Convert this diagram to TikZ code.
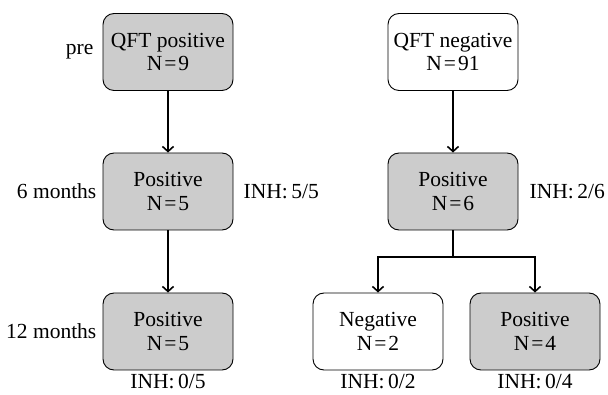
\documentclass[tikz,border=0pt]{standalone}
\usepackage{fontspec}
\setmainfont{Liberation Serif}
\usepackage{tikz}
\usetikzlibrary{positioning,arrows.meta}

\newcommand{\eqsign}{\kern2pt=\kern2pt}

\begin{document}
\begin{tikzpicture}[x=1pt, y=-1pt,
  box/.style={draw, line width=0.9pt, rounded corners=11pt, minimum width=130pt,
    minimum height=77pt, align=center, font=\fontsize{21.5}{23.5}\selectfont},
  posbox/.style={box, fill=gray!40},
  negbox/.style={box, fill=white},
  lbl/.style={font=\fontsize{21.5}{23.5}\selectfont, inner sep=0pt},
  flow/.style={line width=2pt, -{Straight Barb[length=5pt, width=11pt, line width=1.6pt]}}]
\useasboundingbox (0,0) rectangle (608,395);
% left column
\node[posbox] (qftpos) at (168,52) {QFT positive\\N\eqsign 9};
\node[posbox] (pos6l) at (168,191.5) {Positive\\N\eqsign 5};
\node[posbox] (pos12l) at (168,331.5) {Positive\\N\eqsign 5};
% right column
\node[negbox] (qftneg) at (453,52) {QFT negative\\N\eqsign 91};
\node[posbox] (pos6r) at (453,191.5) {Positive\\N\eqsign 6};
\node[negbox] (neg12) at (378,331.5) {Negative\\N\eqsign 2};
\node[posbox] (pos12r) at (535,331.5) {Positive\\N\eqsign 4};
% time points
\node[lbl, left=9pt of qftpos] (tpre) {pre};
\node[lbl, left=6pt of pos6l] (t6) {6 months};
\node[lbl, left=6pt of pos12l] (t12) {12 months};
% treatment
\node[lbl, right=10pt of pos6l] (inh1) {INH:\thinspace 5/5};
\node[lbl, right=11pt of pos6r] (inh2) {INH:\thinspace 2/6};
\node[lbl, below=4pt of pos12l] (inh3) {INH:\thinspace 0/5};
\node[lbl, below=4pt of neg12] (inh4) {INH:\thinspace 0/2};
\node[lbl, below=4pt of pos12r] (inh5) {INH:\thinspace 0/4};
% arrows
\draw[flow] (qftpos) -- (pos6l);
\draw[flow] (pos6l) -- (pos12l);
\draw[flow] (qftneg) -- (pos6r);
\coordinate (split) at (453,257);
\draw[line width=2pt] (pos6r.south) -- (split);
\draw[flow] (split) -| (neg12.north);
\draw[flow] (split) -| (pos12r.north);
\end{tikzpicture}
\end{document}
